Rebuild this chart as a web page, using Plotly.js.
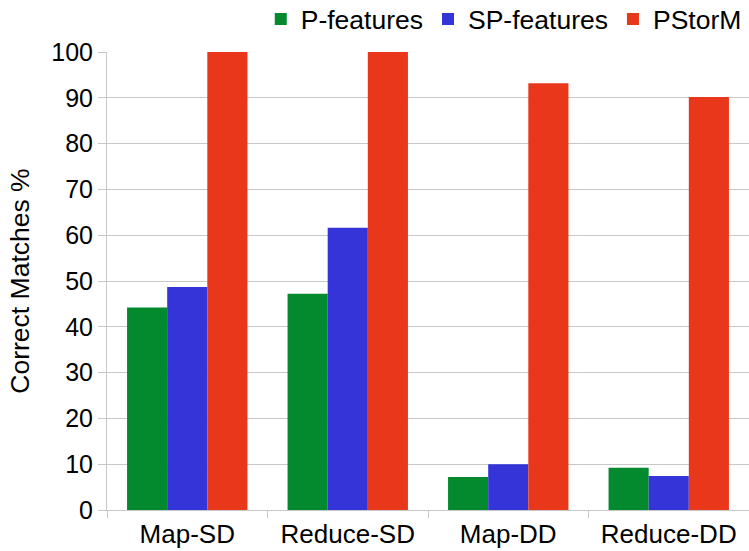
<!DOCTYPE html>
<html><head><meta charset="utf-8">
<script src="https://cdn.plot.ly/plotly-3.0.1.min.js"></script>
<style>html,body{margin:0;padding:0;background:#fff}</style>
</head><body>
<div id="chart" style="width:749px;height:551px"></div>
<script>
const categories = ["Map-SD", "Reduce-SD", "Map-DD", "Reduce-DD"];
const pFeatures = [44.2, 47.2, 7.2, 9.2];
const spFeatures = [48.7, 61.6, 10.0, 7.4];
const pstorm = [100, 100, 93.2, 90.2];
const yTicks = [0, 10, 20, 30, 40, 50, 60, 70, 80, 90, 100];

const font = "Liberation Sans, Arial, sans-serif";
const traces = [
  {type: "bar", name: "P-features", x: categories, y: pFeatures, marker: {color: "#038a2e"}},
  {type: "bar", name: "SP-features", x: categories, y: spFeatures, marker: {color: "#3434d8"}},
  {type: "bar", name: "PStorM", x: categories, y: pstorm, marker: {color: "#e8371a"}}
];
const layout = {
  width: 749, height: 551,
  margin: {l: 107, r: 0, t: 52, b: 41},
  barmode: "group", bargap: 0.25, bargroupgap: 0,
  paper_bgcolor: "#fff", plot_bgcolor: "#fff",
  font: {family: font, size: 25, color: "#000"},
  showlegend: true,
  legend: {orientation: "h", xref: "container", yref: "container", x: 0.997, xanchor: "right",
           y: 0.965, yanchor: "middle",
           font: {family: font, size: 26.5}, traceorder: "normal", itemwidth: 30},
  xaxis: {type: "category", showgrid: false, showline: true, linecolor: "#c8c8c8", linewidth: 1,
          ticks: "outside", tickson: "boundaries", ticklen: 7, tickcolor: "#c8c8c8",
          ticklabelstandoff: 1, automargin: false,
          tickfont: {family: font, size: 26}},
  yaxis: {range: [0, 100], tickvals: yTicks, ticktext: yTicks.map(String),
          showgrid: true, gridcolor: "#c8c8c8", gridwidth: 1,
          showline: true, linecolor: "#c8c8c8", zeroline: false,
          ticks: "outside", ticklen: 8, tickcolor: "#c8c8c8", automargin: false,
          tickfont: {family: font, size: 25},
          title: {text: "Correct Matches %", font: {family: font, size: 26.5}, standoff: 14}}
};
Plotly.newPlot("chart", traces, layout, {displayModeBar: false, responsive: false});
</script>
</body></html>
